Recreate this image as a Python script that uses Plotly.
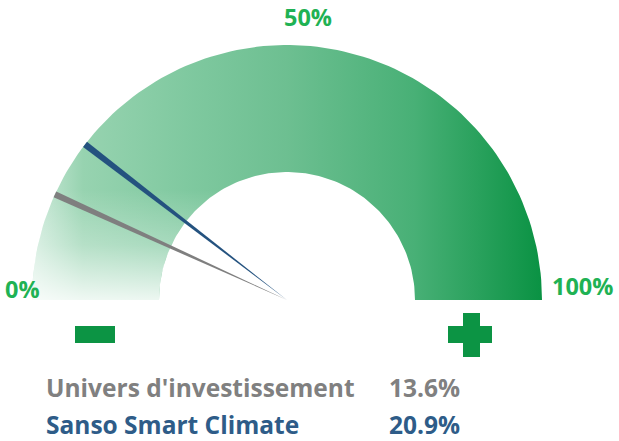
"""
Gauge: Sanso Smart Climate vs investment universe
"""

import numpy as np
import plotly.graph_objects as go

# data
series_names = ["Univers d'investissement", "Sanso Smart Climate"]
series_values = [13.6, 20.9]
series_colors = ["#7f7f7f", "#24527f"]
text_colors = ["#808080", "#2e5c88"]
tick_values = [0, 50, 100]
tick_labels = ["0%", "50%", "100%"]

W, H = 619, 441
CX, CY = 287, H - 300          # gauge centre (data coords, y up)
R_OUT, R_IN = 255, 128
GREEN_TXT = "#1fb254"
GREEN_SIGN = "#0c9444"
FONT = "Open Sans"


def pct_to_angle(p):
    # 0% on the left, 100% on the right
    return np.pi * (1 - p / 100.0)


def band(p0, p1, n=120):
    a = np.linspace(pct_to_angle(p0), pct_to_angle(p1), n)
    xs = np.concatenate([CX + R_OUT * np.cos(a), CX + R_IN * np.cos(a[::-1])])
    ys = np.concatenate([CY + R_OUT * np.sin(a), CY + R_IN * np.sin(a[::-1])])
    return np.append(xs, xs[0]), np.append(ys, ys[0])


fig = go.Figure()

# main band with horizontal gradient
bx, by = band(0, 100)
fig.add_trace(go.Scatter(
    x=bx, y=by, mode="lines", line=dict(width=0), fill="toself",
    fillgradient=dict(type="horizontal", start=CX - R_OUT, stop=CX + R_OUT,
                      colorscale=[[0.0, "#cdeada"], [0.1, "#97d3b0"],
                                  [0.3, "#80c9a0"], [0.5, "#6dbf91"],
                                  [0.75, "#48b076"], [1.0, "#0a9243"]]),
    hoverinfo="skip", showlegend=False))

# light fade at the bottom-left end
lx, ly = band(0, 40)
fig.add_trace(go.Scatter(
    x=lx, y=ly, mode="lines", line=dict(width=0), fill="toself",
    fillgradient=dict(type="vertical", start=CY, stop=CY + 110,
                      colorscale=[[0.0, "rgba(255,255,255,0.85)"],
                                  [0.5, "rgba(255,255,255,0.3)"],
                                  [1.0, "rgba(255,255,255,0)"]]),
    hoverinfo="skip", showlegend=False))

# needles (tapered, tip at centre)
half_w = 3.2
for name, val, col in zip(series_names, series_values, series_colors):
    a = pct_to_angle(val)
    ux, uy = np.cos(a), np.sin(a)
    px_, py_ = -uy, ux
    ex, ey = CX + R_OUT * ux, CY + R_OUT * uy
    fig.add_trace(go.Scatter(
        x=[CX, ex + half_w * px_, ex - half_w * px_, CX],
        y=[CY, ey + half_w * py_, ey - half_w * py_, CY],
        mode="lines", line=dict(width=0), fill="toself", fillcolor=col,
        name=name, hoverinfo="skip", showlegend=False))

# tick labels
tick_pos = {0: (22, H - 289), 50: (308, H - 17), 100: (582, H - 286)}
for v, lab in zip(tick_values, tick_labels):
    x, y = tick_pos[v]
    fig.add_annotation(x=x, y=y, text=f"<b>{lab}</b>", showarrow=False,
                       font=dict(family=FONT, size=23.5, color=GREEN_TXT),
                       xanchor="center", yanchor="middle")

# legend-like text rows
row_y = [H - 387, H - 424]
for name, val, col, y in zip(series_names, series_values, text_colors, row_y):
    fig.add_annotation(x=44, y=y, text=f"<b>{name}</b>", showarrow=False,
                       font=dict(family=FONT, size=24.5, color=col),
                       xanchor="left", yanchor="middle")
    fig.add_annotation(x=387, y=y, text=f"<b>{val:.1f}%</b>", showarrow=False,
                       font=dict(family=FONT, size=24.5, color=col),
                       xanchor="left", yanchor="middle")

# minus / plus signs
shapes = [
    dict(type="rect", x0=75, x1=115, y0=H - 343, y1=H - 326),
    dict(type="rect", x0=463, x1=480, y0=H - 357, y1=H - 313),
    dict(type="rect", x0=448, x1=492, y0=H - 343, y1=H - 326),
]
for s in shapes:
    s.update(fillcolor=GREEN_SIGN, line=dict(width=0), layer="above")

fig.update_layout(
    width=W, height=H,
    margin=dict(l=0, r=0, t=0, b=0),
    paper_bgcolor="white", plot_bgcolor="white",
    shapes=shapes,
    xaxis=dict(range=[0, W], visible=False, fixedrange=True),
    yaxis=dict(range=[0, H], visible=False, fixedrange=True),
)

# page body has a default 8px margin; drop it so the figure fills the window
fig.write_html("out.html", config={"displayModeBar": False},
               post_script="document.body.style.margin='0';")
